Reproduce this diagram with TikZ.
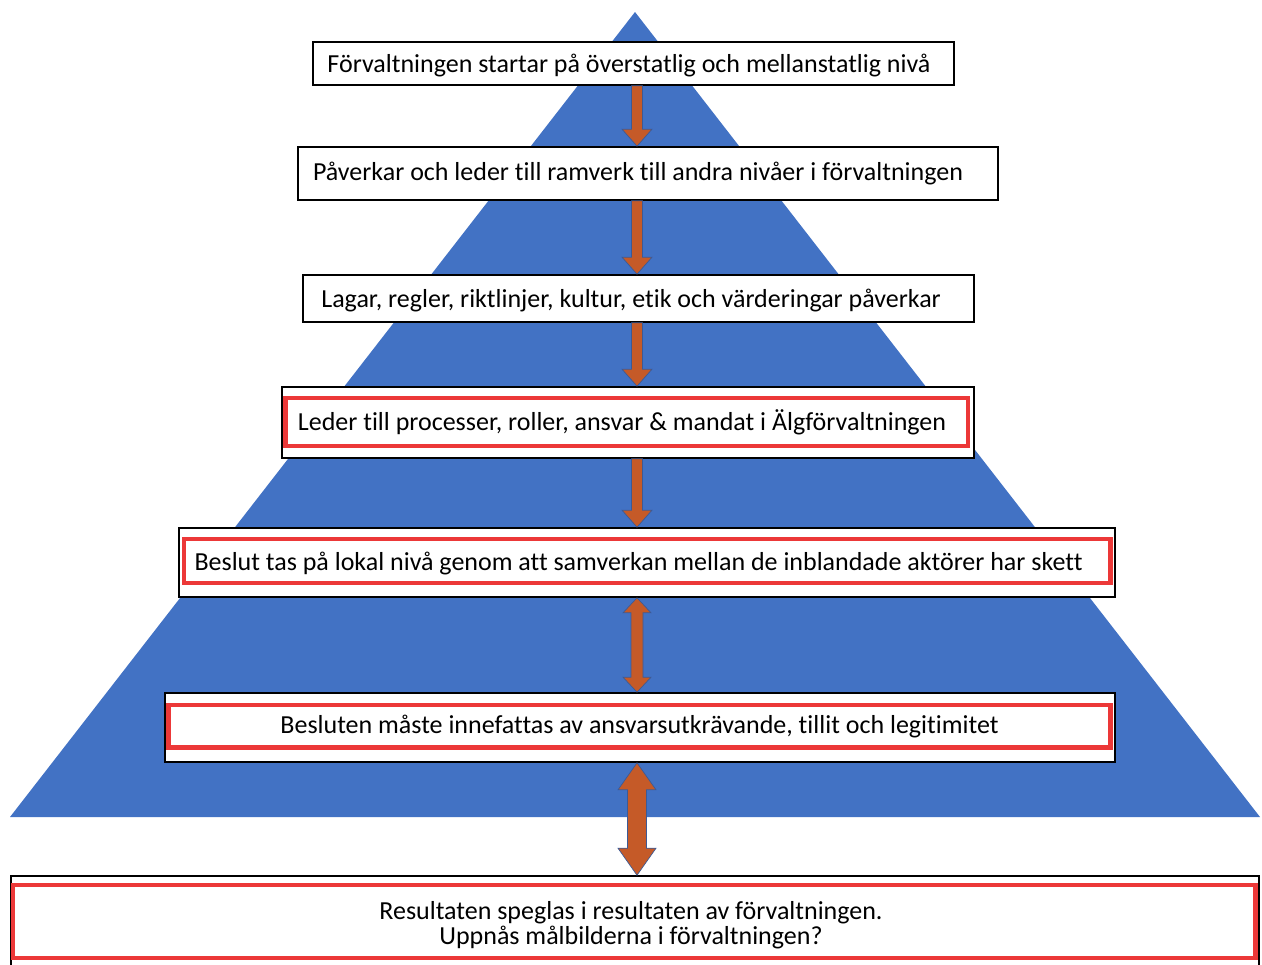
\documentclass[tikz,border=0pt]{standalone}
\usepackage{fontspec}
\setmainfont[Ligatures=NoCommon]{Carlito}
\usetikzlibrary{calc,fit}
\definecolor{pyrblue}{RGB}{66,114,196}
\definecolor{boxred}{RGB}{236,56,56}
\definecolor{arrfill}{RGB}{197,90,40}
\definecolor{arredge}{RGB}{60,90,150}
\tikzset{
  outerbox/.style={draw=black, line width=0.8pt, fill=white, inner sep=0pt},
  redframe/.style={draw=boxred, line width=2.2pt, inner sep=0pt},
  txt/.style={inner sep=0pt, font=\fontsize{13}{13}\selectfont, text=black},
  blockarr/.style={fill=arrfill, draw=arredge, line width=0.35pt, line join=miter},
}
\newcommand\sarrow[2]{%
  \filldraw[blockarr] let \p1=(#1.south -| ax), \p2=(#2.north -| ax) in
  (\x1-2.75pt,\y1) -- (\x1+2.75pt,\y1) -- (\x1+2.75pt,\y2+8.5pt) -- (\x1+7.5pt,\y2+8.5pt)
  -- (\x1,\y2) -- (\x1-7.5pt,\y2+8.5pt) -- (\x1-2.75pt,\y2+8.5pt) -- cycle;}
\newcommand\darrow[5]{%
  \filldraw[blockarr] let \p1=(#1.south -| ax), \p2=(#2.north -| ax) in
  (\x1,\y1) -- (\x1+#4,\y1-#5) -- (\x1+#3,\y1-#5) -- (\x1+#3,\y2+#5) -- (\x1+#4,\y2+#5)
  -- (\x1,\y2) -- (\x1-#4,\y2+#5) -- (\x1-#3,\y2+#5) -- (\x1-#3,\y1-#5) -- (\x1-#4,\y1-#5) -- cycle;}
\begin{document}
\begin{tikzpicture}[x=0.5pt,y=-0.5pt]
\useasboundingbox (0,0) rectangle (1262,964);
\clip (0,0) rectangle (1262,964);
% pyramid
\coordinate (apex) at (635,12);
\coordinate (bl) at (10,817);
\coordinate (br) at (1260,817);
\fill[pyrblue] (apex) -- (bl) -- (br) -- cycle;
\coordinate (ax) at (637,0);
% boxes
\node[outerbox, fit={(313,42) (954,85)}] (b1) {};
\node[outerbox, fit={(298,147) (998,200)}] (b2) {};
\node[outerbox, fit={(303,275) (974,322)}] (b3) {};
\node[outerbox, fit={(282,387) (974,458)}] (b4) {};
\node[redframe, fit={(285.5,398) (968,446)}] (r4) {};
\node[outerbox, fit={(179,528) (1115,597)}] (b5) {};
\node[redframe, fit={(184,539) (1110.5,583)}] (r5) {};
\node[outerbox, fit={(165,693) (1115,762)}] (b6) {};
\node[redframe, fit={(168.5,705) (1110.5,747.5)}] (r6) {};
\node[outerbox, fit={(11,876) (1259,975)}] (b7) {};
\node[redframe, fit={(13,885) (1255.5,958)}] (r7) {};
% texts
\node[txt, anchor=base] (t1) at (629,72) {Förvaltningen startar på överstatlig och mellanstatlig nivå};
\node[txt, anchor=base] (t2) at (638,180) {Påverkar och leder till ramverk till andra nivåer i förvaltningen};
\node[txt, anchor=base] (t3) at (631,307) {Lagar, regler, riktlinjer, kultur, etik och värderingar påverkar};
\node[txt, anchor=base] (t4) at (622,430) {Leder till processer, roller, ansvar \& mandat i Älgförvaltningen};
\node[txt, anchor=base] (t5) at (638.5,570) {Beslut tas på lokal nivå genom att samverkan mellan de inblandade aktörer har skett};
\node[txt, anchor=base] (t6) at (639.5,733) {Besluten måste innefattas av ansvarsutkrävande, tillit och legitimitet};
\node[txt, anchor=base] (t7a) at (631,919) {Resultaten speglas i resultaten av förvaltningen.};
\node[txt, anchor=base] (t7b) at (631,944) {Uppnås målbilderna i förvaltningen?};
% arrows
\sarrow{b1}{b2}
\sarrow{b2}{b3}
\sarrow{b3}{b4}
\sarrow{b4}{b5}
\darrow{b5}{b6}{3pt}{7pt}{7.5pt}
\darrow{b6}{b7}{4.75pt}{9.5pt}{13.5pt}
\end{tikzpicture}
\end{document}
